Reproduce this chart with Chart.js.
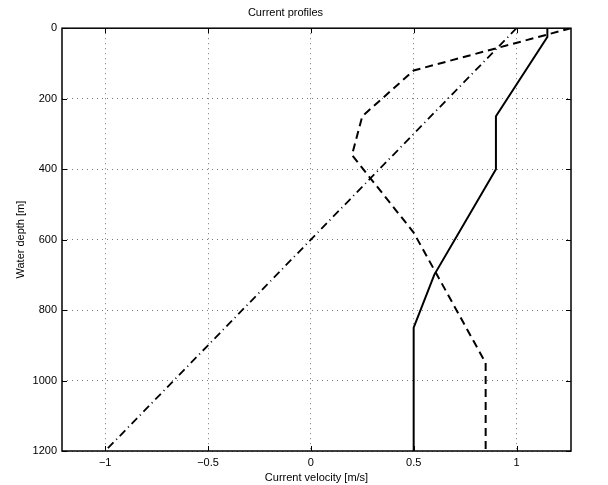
<!DOCTYPE html>
<html>
<head>
<meta charset="utf-8">
<script src="https://cdn.jsdelivr.net/npm/chart.js@4.4.1/dist/chart.umd.min.js"></script>
<style>
  html, body { margin: 0; padding: 0; background: #fff; }
  #wrap { width: 608px; height: 485px; }
</style>
</head>
<body>
<div id="wrap"><canvas id="chart-area" width="608" height="485"></canvas></div>
<script>
/*---------------------------------
   DATOS
 ----------------------------------*/
// profile 1 (solid)
var depthSolid = [0, 25, 250, 400, 700, 850, 1200];
var velSolid = [1.15, 1.15, 0.9, 0.9, 0.6, 0.5, 0.5];
// profile 2 (dashed)
var depthDashed = [0, 120, 250, 360, 580, 950, 1200];
var velDashed = [1.265, 0.5, 0.25, 0.2, 0.5, 0.85, 0.85];
// profile 3 (dash-dot)
var depthDashDot = [0, 1200];
var velDashDot = [1, -1];

var xTicks = [-1, -0.5, 0, 0.5, 1];
var yTicks = [0, 200, 400, 600, 800, 1000, 1200];

function toPoints(xs, ys) {
    return xs.map(function(x, i) { return { x: x, y: ys[i] }; });
}

function fmt(v) {
    return String(v).replace('-', '\u2212');
}

/*---------------------------------
   MARCO Y TICKS HACIA DENTRO
 ----------------------------------*/
var frameBox = {
    id: 'frameBox',
    afterDraw: function(chart) {
        var ctx = chart.ctx;
        var a = chart.chartArea;
        var sx = chart.scales.x, sy = chart.scales.y;
        var len = 5;
        ctx.save();
        ctx.strokeStyle = '#000';
        ctx.lineWidth = 1;
        ctx.beginPath();
        xTicks.forEach(function(v) {
            var px = Math.round(sx.getPixelForValue(v)) + 0.5;
            ctx.moveTo(px, a.bottom); ctx.lineTo(px, a.bottom - len);
            ctx.moveTo(px, a.top); ctx.lineTo(px, a.top + len);
        });
        yTicks.forEach(function(v) {
            var py = Math.round(sy.getPixelForValue(v)) + 0.5;
            ctx.moveTo(a.left, py); ctx.lineTo(a.left + len, py);
            ctx.moveTo(a.right, py); ctx.lineTo(a.right - len, py);
        });
        ctx.stroke();
        ctx.lineWidth = 1.5;
        ctx.strokeRect(a.left, a.top, a.right - a.left, a.bottom - a.top);
        ctx.restore();
    }
};

/*---------------------------------
   GRAFICO
 ----------------------------------*/
var config = {
    type: 'scatter',
    data: {
        datasets: [{
            data: toPoints(velSolid, depthSolid),
            showLine: true,
            borderColor: '#000',
            borderWidth: 2,
            pointRadius: 0
        }, {
            data: toPoints(velDashed, depthDashed),
            showLine: true,
            borderColor: '#000',
            borderWidth: 2,
            borderDash: [8, 5],
            pointRadius: 0
        }, {
            data: toPoints(velDashDot, depthDashDot),
            showLine: true,
            borderColor: '#000',
            borderWidth: 1.8,
            borderDash: [8, 4, 1, 4],
            pointRadius: 0
        }]
    },
    options: {
        responsive: false,
        animation: false,
        layout: { padding: { left: 0, right: 37, top: 0, bottom: 0 } },
        plugins: {
            legend: { display: false },
            tooltip: { enabled: false },
            title: {
                display: true,
                text: 'Current profiles',
                color: '#000',
                font: { family: 'Liberation Sans', size: 11, weight: 'normal' },
                padding: { top: 6, bottom: 9 }
            }
        },
        scales: {
            x: {
                type: 'linear',
                min: -1.21,
                max: 1.265,
                afterBuildTicks: function(s) {
                    s.ticks = xTicks.map(function(v) { return { value: v }; });
                },
                afterFit: function(s) { s.height = 34; },
                grid: { color: '#777', lineWidth: 1, drawTicks: false },
                border: { display: false, dash: [1, 4] },
                ticks: {
                    color: '#000',
                    padding: 5,
                    maxRotation: 0,
                    font: { family: 'Liberation Sans', size: 11 },
                    callback: function(v) { return fmt(v); }
                },
                title: {
                    display: true,
                    text: 'Current velocity [m/s]',
                    color: '#000',
                    font: { family: 'Liberation Sans', size: 11 },
                    padding: { top: 0, bottom: 0 }
                }
            },
            y: {
                type: 'linear',
                reverse: true,
                min: 0,
                max: 1200,
                afterBuildTicks: function(s) {
                    s.ticks = yTicks.map(function(v) { return { value: v }; });
                },
                afterFit: function(s) { s.width = 62; },
                grid: { color: '#777', lineWidth: 1, drawTicks: false },
                border: { display: false, dash: [1, 4] },
                ticks: {
                    color: '#000',
                    padding: 5,
                    font: { family: 'Liberation Sans', size: 11 },
                    callback: function(v) { return fmt(v); }
                },
                title: {
                    display: true,
                    text: 'Water depth [m]',
                    color: '#000',
                    font: { family: 'Liberation Sans', size: 11 },
                    padding: { top: 14, bottom: 0 }
                }
            }
        }
    },
    plugins: [frameBox]
};

window.onload = function() {
    var ctx = document.getElementById('chart-area').getContext('2d');
    window.myChart = new Chart(ctx, config);
};
</script>
</body>
</html>
